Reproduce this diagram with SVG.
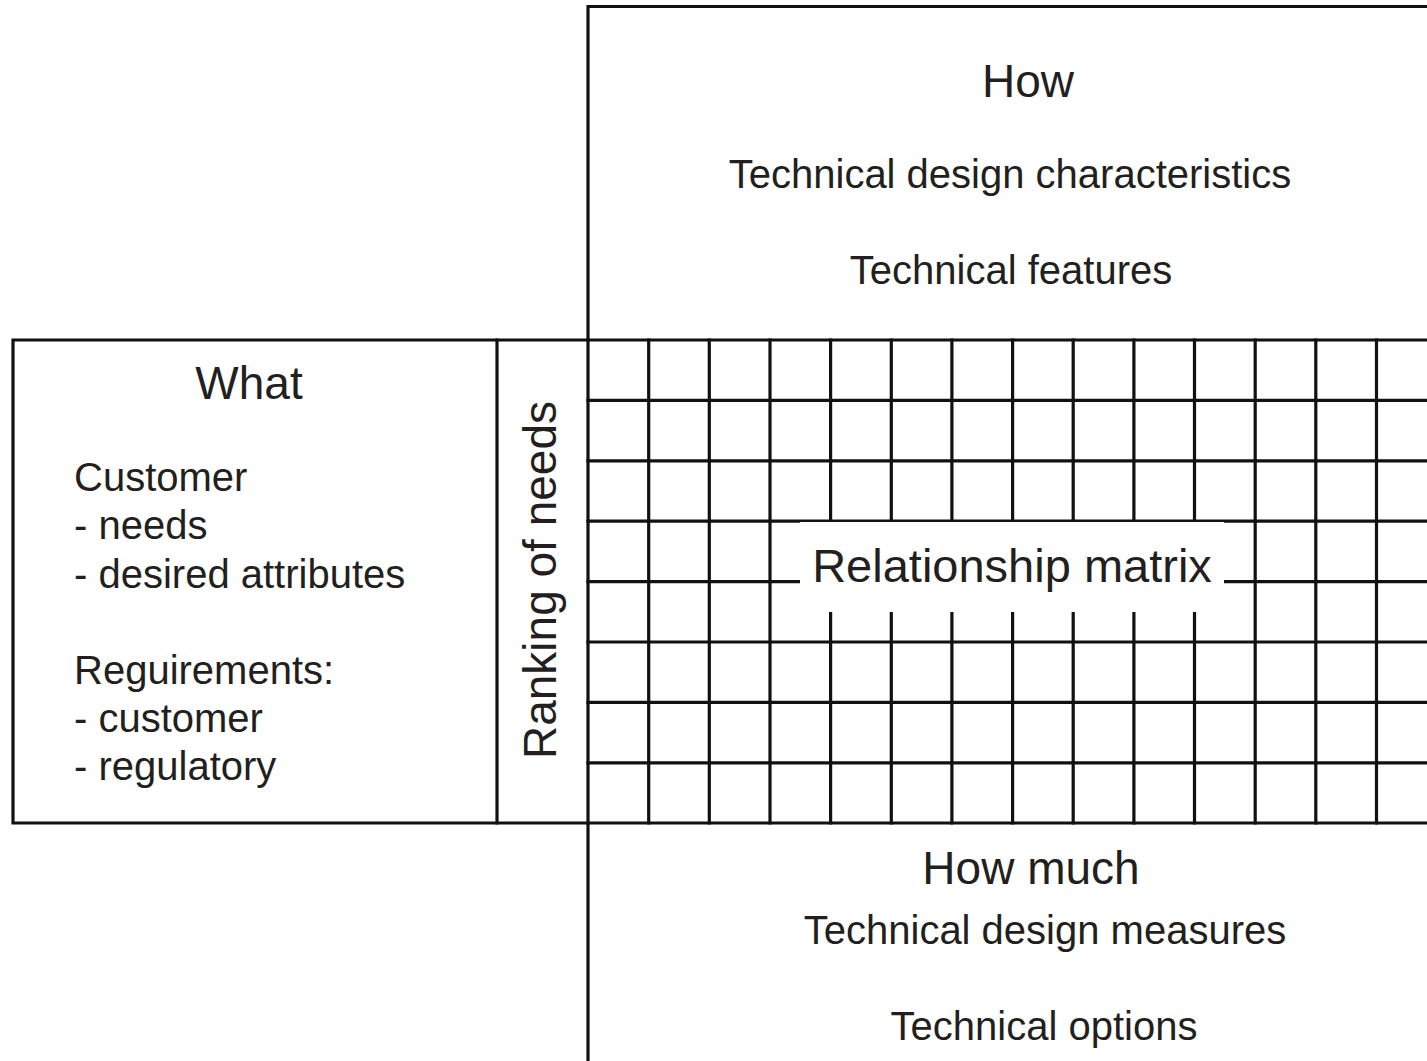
<svg xmlns="http://www.w3.org/2000/svg" width="1427" height="1061" viewBox="0 0 1427 1061">
  <style>
    .ln { stroke: #111111; stroke-width: 3.2; fill: none; stroke-linecap: square; }
    .t { font-family: "Liberation Sans", Arial, Helvetica, sans-serif; fill: #231f20; }
    .big { font-size: 46px; }
    .sm { font-size: 40px; }
    .mid { text-anchor: middle; }
  </style>
  <rect x="0" y="0" width="1427" height="1061" fill="#ffffff"/>

  <!-- frame lines and the matrix grid -->
  <g id="connectors">
    <!-- top "How" region and the long spine -->
    <path class="ln" d="M1427 6.5 H588 V1061"/>
    <!-- "What" box -->
    <path class="ln" d="M588 340 H13 V823 H588"/>
    <line class="ln" x1="497" y1="340" x2="497" y2="823"/>
    <!-- grid: horizontal rows -->
    <g id="grid-rows">
      <line class="ln" x1="588" y1="340" x2="1427" y2="340"/>
      <line class="ln" x1="588" y1="400.4" x2="1427" y2="400.4"/>
      <line class="ln" x1="588" y1="460.8" x2="1427" y2="460.8"/>
      <line class="ln" x1="588" y1="521.2" x2="1427" y2="521.2"/>
      <line class="ln" x1="588" y1="581.6" x2="1427" y2="581.6"/>
      <line class="ln" x1="588" y1="642" x2="1427" y2="642"/>
      <line class="ln" x1="588" y1="702.4" x2="1427" y2="702.4"/>
      <line class="ln" x1="588" y1="762.8" x2="1427" y2="762.8"/>
      <line class="ln" x1="588" y1="823" x2="1427" y2="823"/>
    </g>
    <!-- grid: vertical columns -->
    <g id="grid-cols">
      <line class="ln" x1="648.7" y1="340" x2="648.7" y2="823"/>
      <line class="ln" x1="709.3" y1="340" x2="709.3" y2="823"/>
      <line class="ln" x1="770" y1="340" x2="770" y2="823"/>
      <line class="ln" x1="830.6" y1="340" x2="830.6" y2="823"/>
      <line class="ln" x1="891.3" y1="340" x2="891.3" y2="823"/>
      <line class="ln" x1="951.9" y1="340" x2="951.9" y2="823"/>
      <line class="ln" x1="1012.6" y1="340" x2="1012.6" y2="823"/>
      <line class="ln" x1="1073.2" y1="340" x2="1073.2" y2="823"/>
      <line class="ln" x1="1133.9" y1="340" x2="1133.9" y2="823"/>
      <line class="ln" x1="1194.5" y1="340" x2="1194.5" y2="823"/>
      <line class="ln" x1="1255.2" y1="340" x2="1255.2" y2="823"/>
      <line class="ln" x1="1315.8" y1="340" x2="1315.8" y2="823"/>
      <line class="ln" x1="1376.5" y1="340" x2="1376.5" y2="823"/>
    </g>
  </g>

  <!-- label over the grid, on a white plate -->
  <g id="relationship-matrix">
    <rect x="800" y="522" width="424" height="90" fill="#ffffff"/>
    <text class="t mid" x="1012" y="582" font-size="47">Relationship matrix</text>
  </g>

  <g id="how">
    <text class="t big mid" x="1028" y="97">How</text>
    <text class="t sm mid" x="1010" y="188">Technical design characteristics</text>
    <text class="t sm mid" x="1011" y="284">Technical features</text>
  </g>

  <g id="what">
    <text class="t big mid" x="249" y="399">What</text>
    <text class="t sm" x="74" y="491">Customer</text>
    <text class="t sm" x="74" y="539">- needs</text>
    <text class="t sm" x="74" y="588">- desired attributes</text>
    <text class="t sm" x="74" y="684">Reguirements:</text>
    <text class="t sm" x="74" y="732">- customer</text>
    <text class="t sm" x="74" y="780">- regulatory</text>
  </g>

  <g id="ranking">
    <text class="t big mid" transform="translate(556 580) rotate(-90)" x="0" y="0">Ranking of needs</text>
  </g>

  <g id="how-much">
    <text class="t big mid" x="1031" y="884">How much</text>
    <text class="t sm mid" x="1045" y="944">Technical design measures</text>
    <text class="t sm mid" x="1044" y="1040">Technical options</text>
  </g>
</svg>
